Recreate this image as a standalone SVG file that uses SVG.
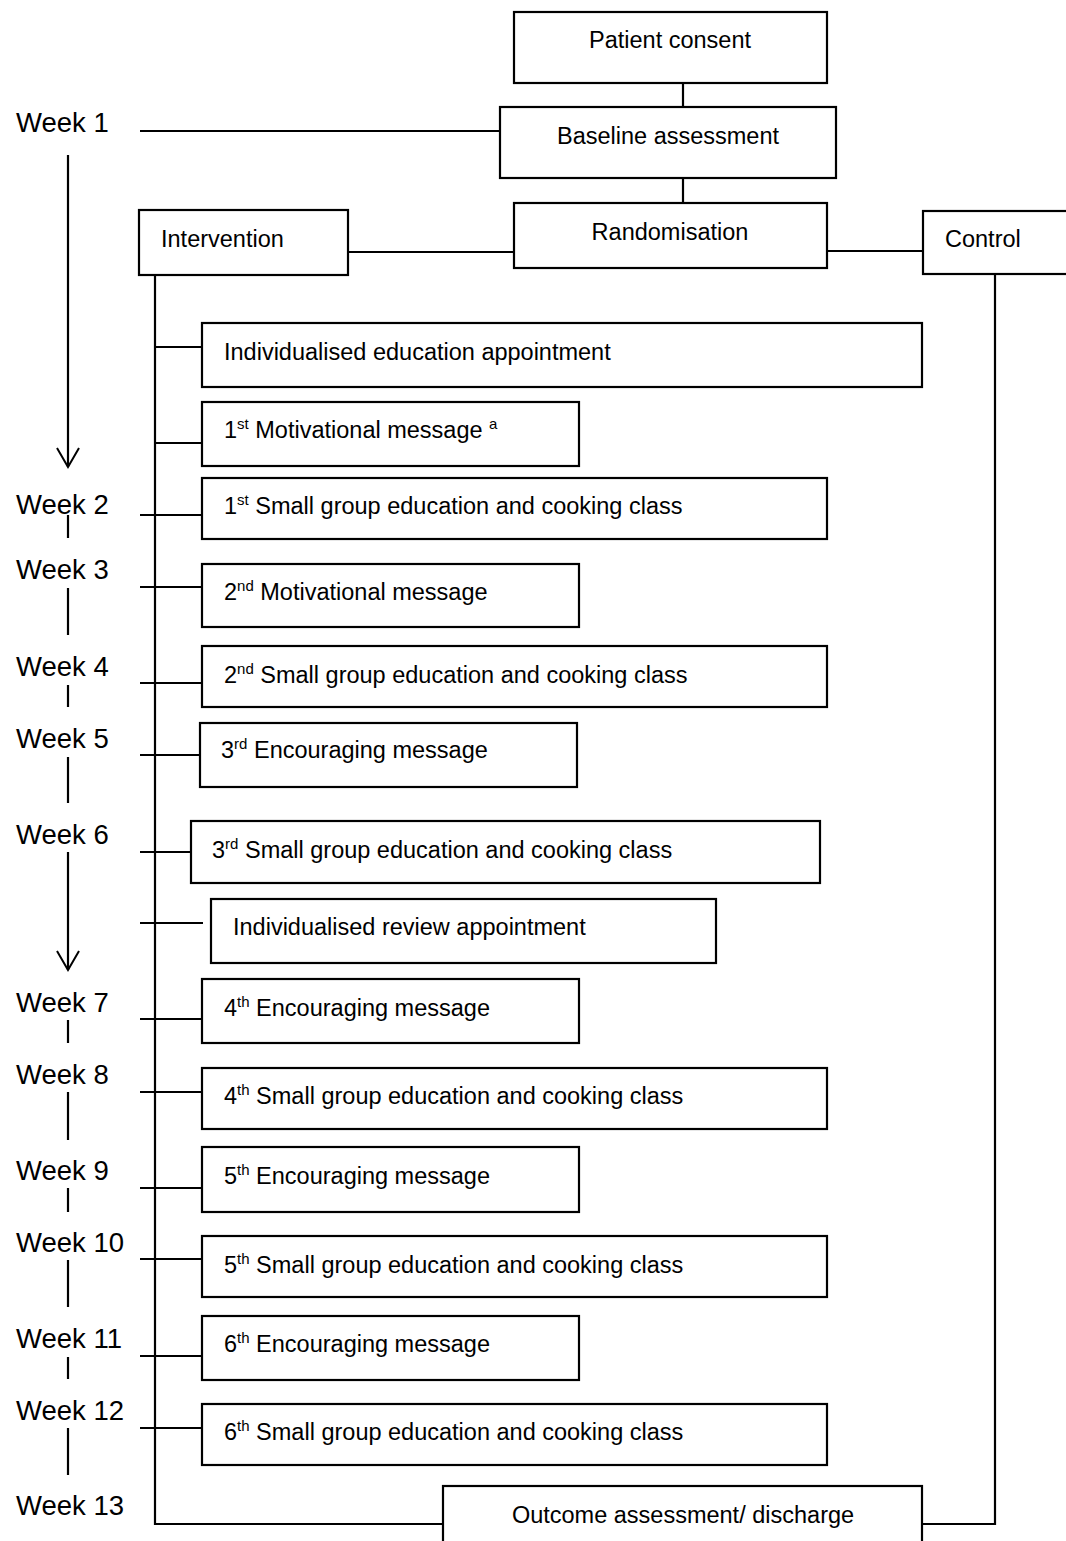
<svg xmlns="http://www.w3.org/2000/svg" width="1066" height="1541" viewBox="0 0 1066 1541">
<defs>
<style>
.box{fill:#fff;stroke:#000;stroke-width:2.2}
.ln{fill:none;stroke:#000;stroke-width:2.2}
.t{font-family:"Liberation Sans",Arial,sans-serif;font-size:23.5px;fill:#000}
.c{text-anchor:middle}
.wk{font-family:"Liberation Sans",Arial,sans-serif;font-size:27.5px;fill:#000}
.sup{font-size:15px}
</style>
<marker id="arr" viewBox="0 0 22 24" refX="20" refY="12" markerWidth="22" markerHeight="24" markerUnits="userSpaceOnUse" orient="auto">
<path d="M1,1 L20,12 L1,23" fill="none" stroke="#000" stroke-width="2"/>
</marker>
</defs>
<rect width="1066" height="1541" fill="#fff"/>

<g id="connectors">
<line class="ln" x1="683" y1="83" x2="683" y2="107"/>
<line class="ln" x1="683" y1="178" x2="683" y2="203"/>
<line class="ln" x1="140" y1="131" x2="500" y2="131"/>
<line class="ln" x1="348" y1="252" x2="514" y2="252"/>
<line class="ln" x1="827" y1="251" x2="923" y2="251"/>
<polyline class="ln" points="155,275 155,1524 443,1524"/>
<polyline class="ln" points="995,274 995,1524 922,1524"/>
<line class="ln" x1="155" y1="347" x2="202" y2="347"/>
<line class="ln" x1="155" y1="443" x2="202" y2="443"/>
<line class="ln" x1="140" y1="515" x2="202" y2="515"/>
<line class="ln" x1="140" y1="587" x2="202" y2="587"/>
<line class="ln" x1="140" y1="683" x2="202" y2="683"/>
<line class="ln" x1="140" y1="755" x2="200" y2="755"/>
<line class="ln" x1="140" y1="852" x2="203" y2="852"/>
<line class="ln" x1="140" y1="923" x2="203" y2="923"/>
<line class="ln" x1="140" y1="1019" x2="202" y2="1019"/>
<line class="ln" x1="140" y1="1092" x2="202" y2="1092"/>
<line class="ln" x1="140" y1="1188" x2="202" y2="1188"/>
<line class="ln" x1="140" y1="1259" x2="202" y2="1259"/>
<line class="ln" x1="140" y1="1356" x2="202" y2="1356"/>
<line class="ln" x1="140" y1="1428" x2="202" y2="1428"/>
<!-- timeline -->
<line class="ln" x1="68" y1="155" x2="68" y2="467" marker-end="url(#arr)"/>
<line class="ln" x1="68" y1="515" x2="68" y2="538"/>
<line class="ln" x1="68" y1="588" x2="68" y2="635"/>
<line class="ln" x1="68" y1="685" x2="68" y2="707"/>
<line class="ln" x1="68" y1="757" x2="68" y2="803"/>
<line class="ln" x1="68" y1="852" x2="68" y2="970" marker-end="url(#arr)"/>
<line class="ln" x1="68" y1="1020" x2="68" y2="1043"/>
<line class="ln" x1="68" y1="1092" x2="68" y2="1140"/>
<line class="ln" x1="68" y1="1188" x2="68" y2="1212"/>
<line class="ln" x1="68" y1="1260" x2="68" y2="1307"/>
<line class="ln" x1="68" y1="1357" x2="68" y2="1379"/>
<line class="ln" x1="68" y1="1428" x2="68" y2="1475"/>
</g>

<g id="weeks">
<text class="wk" x="16" y="132">Week 1</text>
<text class="wk" x="16" y="514">Week 2</text>
<text class="wk" x="16" y="579">Week 3</text>
<text class="wk" x="16" y="676">Week 4</text>
<text class="wk" x="16" y="748">Week 5</text>
<text class="wk" x="16" y="844">Week 6</text>
<text class="wk" x="16" y="1012">Week 7</text>
<text class="wk" x="16" y="1084">Week 8</text>
<text class="wk" x="16" y="1180">Week 9</text>
<text class="wk" x="16" y="1252">Week 10</text>
<text class="wk" x="16" y="1348">Week 11</text>
<text class="wk" x="16" y="1420">Week 12</text>
<text class="wk" x="16" y="1515">Week 13</text>
</g>

<g id="consent"><rect class="box" x="514" y="12" width="313" height="71"/><text class="t c" x="670" y="48">Patient consent</text></g>
<g id="baseline"><rect class="box" x="500" y="107" width="336" height="71"/><text class="t c" x="668" y="144">Baseline assessment</text></g>
<g id="randomisation"><rect class="box" x="514" y="203" width="313" height="65"/><text class="t c" x="670" y="240">Randomisation</text></g>
<g id="intervention"><rect class="box" x="139" y="210" width="209" height="65"/><text class="t" x="161" y="247">Intervention</text></g>
<g id="control"><rect class="box" x="923" y="211" width="150" height="63"/><text class="t" x="945" y="247">Control</text></g>

<g id="n1"><rect class="box" x="202" y="323" width="720" height="64"/><text class="t" x="224" y="360">Individualised education appointment</text></g>
<g id="n2"><rect class="box" x="202" y="402" width="377" height="64"/><text class="t" x="224" y="438">1<tspan class="sup" dy="-9">st</tspan><tspan dy="9"> Motivational message </tspan><tspan class="sup" dy="-9">a</tspan></text></g>
<g id="n3"><rect class="box" x="202" y="478" width="625" height="61"/><text class="t" x="224" y="514">1<tspan class="sup" dy="-9">st</tspan><tspan dy="9"> Small group education and cooking class</tspan></text></g>
<g id="n4"><rect class="box" x="202" y="564" width="377" height="63"/><text class="t" x="224" y="600">2<tspan class="sup" dy="-9">nd</tspan><tspan dy="9"> Motivational message</tspan></text></g>
<g id="n5"><rect class="box" x="202" y="646" width="625" height="61"/><text class="t" x="224" y="683">2<tspan class="sup" dy="-9">nd</tspan><tspan dy="9"> Small group education and cooking class</tspan></text></g>
<g id="n6"><rect class="box" x="200" y="723" width="377" height="64"/><text class="t" x="221" y="758">3<tspan class="sup" dy="-9">rd</tspan><tspan dy="9"> Encouraging message</tspan></text></g>
<g id="n7"><rect class="box" x="191" y="821" width="629" height="62"/><text class="t" x="212" y="858">3<tspan class="sup" dy="-9">rd</tspan><tspan dy="9"> Small group education and cooking class</tspan></text></g>
<g id="n8"><rect class="box" x="211" y="899" width="505" height="64"/><text class="t" x="233" y="935">Individualised review appointment</text></g>
<g id="n9"><rect class="box" x="202" y="979" width="377" height="64"/><text class="t" x="224" y="1016">4<tspan class="sup" dy="-9">th</tspan><tspan dy="9"> Encouraging message</tspan></text></g>
<g id="n10"><rect class="box" x="202" y="1068" width="625" height="61"/><text class="t" x="224" y="1104">4<tspan class="sup" dy="-9">th</tspan><tspan dy="9"> Small group education and cooking class</tspan></text></g>
<g id="n11"><rect class="box" x="202" y="1147" width="377" height="65"/><text class="t" x="224" y="1184">5<tspan class="sup" dy="-9">th</tspan><tspan dy="9"> Encouraging message</tspan></text></g>
<g id="n12"><rect class="box" x="202" y="1236" width="625" height="61"/><text class="t" x="224" y="1273">5<tspan class="sup" dy="-9">th</tspan><tspan dy="9"> Small group education and cooking class</tspan></text></g>
<g id="n13"><rect class="box" x="202" y="1316" width="377" height="64"/><text class="t" x="224" y="1352">6<tspan class="sup" dy="-9">th</tspan><tspan dy="9"> Encouraging message</tspan></text></g>
<g id="n14"><rect class="box" x="202" y="1404" width="625" height="61"/><text class="t" x="224" y="1440">6<tspan class="sup" dy="-9">th</tspan><tspan dy="9"> Small group education and cooking class</tspan></text></g>
<g id="outcome"><rect class="box" x="443" y="1486" width="479" height="70"/><text class="t c" x="683" y="1523">Outcome assessment/ discharge</text></g>
</svg>
